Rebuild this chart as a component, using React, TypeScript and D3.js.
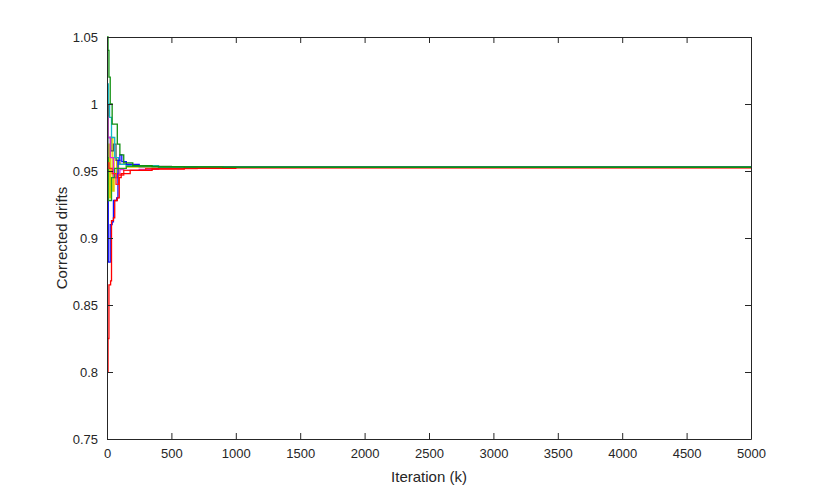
import { useEffect, useRef } from "react";
import * as d3 from "d3";

// Plot frame (pixels inside the 830x493 svg)
const W = 830;
const H = 493;
const margin = { left: 107, right: 79, top: 37, bottom: 54 };

const xTicks = [0, 500, 1000, 1500, 2000, 2500, 3000, 3500, 4000, 4500, 5000];
const yTicks = [0.75, 0.8, 0.85, 0.9, 0.95, 1, 1.05];
const yTickLabels = ["0.75", "0.8", "0.85", "0.9", "0.95", "1", "1.05"];

// Stair-step traces: [iteration, corrected drift] breakpoints
const greenTop: [number, number][] = [
  [0, 1.05], [8, 1.04], [15, 1.02], [25, 1.0], [40, 0.985], [70, 0.985],
  [80, 0.97], [100, 0.962], [130, 0.956], [200, 0.954], [350, 0.9533], [600, 0.953], [900, 0.9528], [5000, 0.9528],
];
const greenLow: [number, number][] = [
  [0, 0.99], [5, 0.96], [10, 0.928], [28, 0.928], [35, 0.945], [60, 0.952],
  [150, 0.9535], [400, 0.953], [800, 0.9528], [5000, 0.9528],
];
const blue: [number, number][] = [
  [0, 0.975], [5, 0.93], [10, 0.882], [25, 0.91], [40, 0.912], [50, 0.928],
  [75, 0.93], [85, 0.958], [100, 0.962], [115, 0.957], [150, 0.955], [250, 0.9532], [700, 0.9528], [5000, 0.9528],
];
const red: [number, number][] = [
  [0, 0.8], [8, 0.825], [15, 0.865], [28, 0.868], [35, 0.913], [50, 0.915],
  [60, 0.928], [80, 0.93], [95, 0.945], [110, 0.948], [180, 0.9505], [350, 0.9515],
  [600, 0.952], [1000, 0.9525], [5000, 0.9526],
];
const redHigh: [number, number][] = [
  [0, 0.956], [15, 0.952], [40, 0.948], [70, 0.94], [90, 0.947], [130, 0.9505],
  [300, 0.9518], [700, 0.9524], [5000, 0.9526],
];
const cyan: [number, number][] = [
  [0, 1.015], [10, 1.0], [20, 0.99], [35, 0.975], [60, 0.96], [90, 0.955],
  [150, 0.954], [400, 0.953], [800, 0.9528], [5000, 0.9528],
];
const magenta: [number, number][] = [
  [0, 0.99], [10, 0.975], [25, 0.96], [50, 0.945], [80, 0.948], [100, 0.951],
  [130, 0.9505], [250, 0.9512], [400, 0.9522], [800, 0.9527], [5000, 0.9527],
];
const yellow: [number, number][] = [
  [0, 0.985], [5, 0.94], [10, 0.97], [20, 0.93], [30, 0.975], [45, 0.935],
  [55, 0.96], [75, 0.945], [90, 0.955], [150, 0.953], [500, 0.9528], [5000, 0.9528],
];
const black: [number, number][] = [
  [0, 1.0], [10, 0.975], [30, 0.965], [50, 0.97], [70, 0.958], [100, 0.955],
  [200, 0.9535], [500, 0.9529], [5000, 0.9528],
];

const series = [
  { data: yellow, color: "#e0d000" },
  { data: black, color: "#555555" },
  { data: magenta, color: "#e020e0" },
  { data: cyan, color: "#10b8c8" },
  { data: blue, color: "#1010ff" },
  { data: greenLow, color: "#20a020" },
  { data: redHigh, color: "#ff2020" },
  { data: red, color: "#ff0000" },
  { data: greenTop, color: "#109010" },
];

export default function App() {
  const ref = useRef<SVGSVGElement>(null);

  useEffect(() => {
    const svg = d3.select(ref.current);
    svg.selectAll("*").remove();

    const x = d3.scaleLinear().domain([0, 5000]).range([margin.left, W - margin.right]);
    const y = d3.scaleLinear().domain([0.75, 1.05]).range([H - margin.bottom, margin.top]);

    const axisColor = "#262626";
    const font = "'Liberation Sans', Arial, sans-serif";

    // traces
    const line = d3
      .line<[number, number]>()
      .x((d) => x(d[0]))
      .y((d) => y(d[1]))
      .curve(d3.curveStepAfter);

    svg
      .append("g")
      .selectAll("path")
      .data(series)
      .join("path")
      .attr("d", (s) => line(s.data))
      .attr("fill", "none")
      .attr("stroke", (s) => s.color)
      .attr("stroke-width", 1.3);

    // axes with inward ticks on all four sides
    const tickLen = 6;
    const bottom = svg
      .append("g")
      .attr("transform", `translate(0,${y(0.75)})`)
      .call(
        d3.axisBottom(x).tickValues(xTicks).tickSizeInner(-tickLen).tickSizeOuter(0).tickPadding(10)
          .tickFormat(d3.format("d"))
      );
    const top = svg
      .append("g")
      .attr("transform", `translate(0,${y(1.05)})`)
      .call(d3.axisTop(x).tickValues(xTicks).tickSizeInner(-tickLen).tickSizeOuter(0).tickFormat(() => ""));
    const left = svg
      .append("g")
      .attr("transform", `translate(${x(0)},0)`)
      .call(
        d3.axisLeft(y).tickValues(yTicks).tickSizeInner(-tickLen).tickSizeOuter(0).tickPadding(9)
          .tickFormat((_, i) => yTickLabels[i])
      );
    const right = svg
      .append("g")
      .attr("transform", `translate(${x(5000)},0)`)
      .call(d3.axisRight(y).tickValues(yTicks).tickSizeInner(-tickLen).tickSizeOuter(0).tickFormat(() => ""));

    [bottom, top, left, right].forEach((g) => {
      g.select(".domain").attr("stroke", axisColor).attr("stroke-width", 1);
      g.selectAll(".tick line").attr("stroke", axisColor);
      g.selectAll(".tick text").attr("fill", axisColor).attr("font-size", 13).attr("font-family", font);
    });

    svg
      .append("text")
      .attr("x", (x(0) + x(5000)) / 2)
      .attr("y", 482)
      .attr("text-anchor", "middle")
      .attr("font-family", font)
      .attr("font-size", 15)
      .attr("fill", axisColor)
      .text("Iteration (k)");

    svg
      .append("text")
      .attr("transform", `translate(67,${(y(0.75) + y(1.05)) / 2}) rotate(-90)`)
      .attr("text-anchor", "middle")
      .attr("font-family", font)
      .attr("font-size", 15)
      .attr("fill", axisColor)
      .text("Corrected drifts");
  }, []);

  return (
    <svg
      ref={ref}
      width={W}
      height={H}
      style={{ position: "absolute", left: 0, top: 0, background: "#fff" }}
    />
  );
}
